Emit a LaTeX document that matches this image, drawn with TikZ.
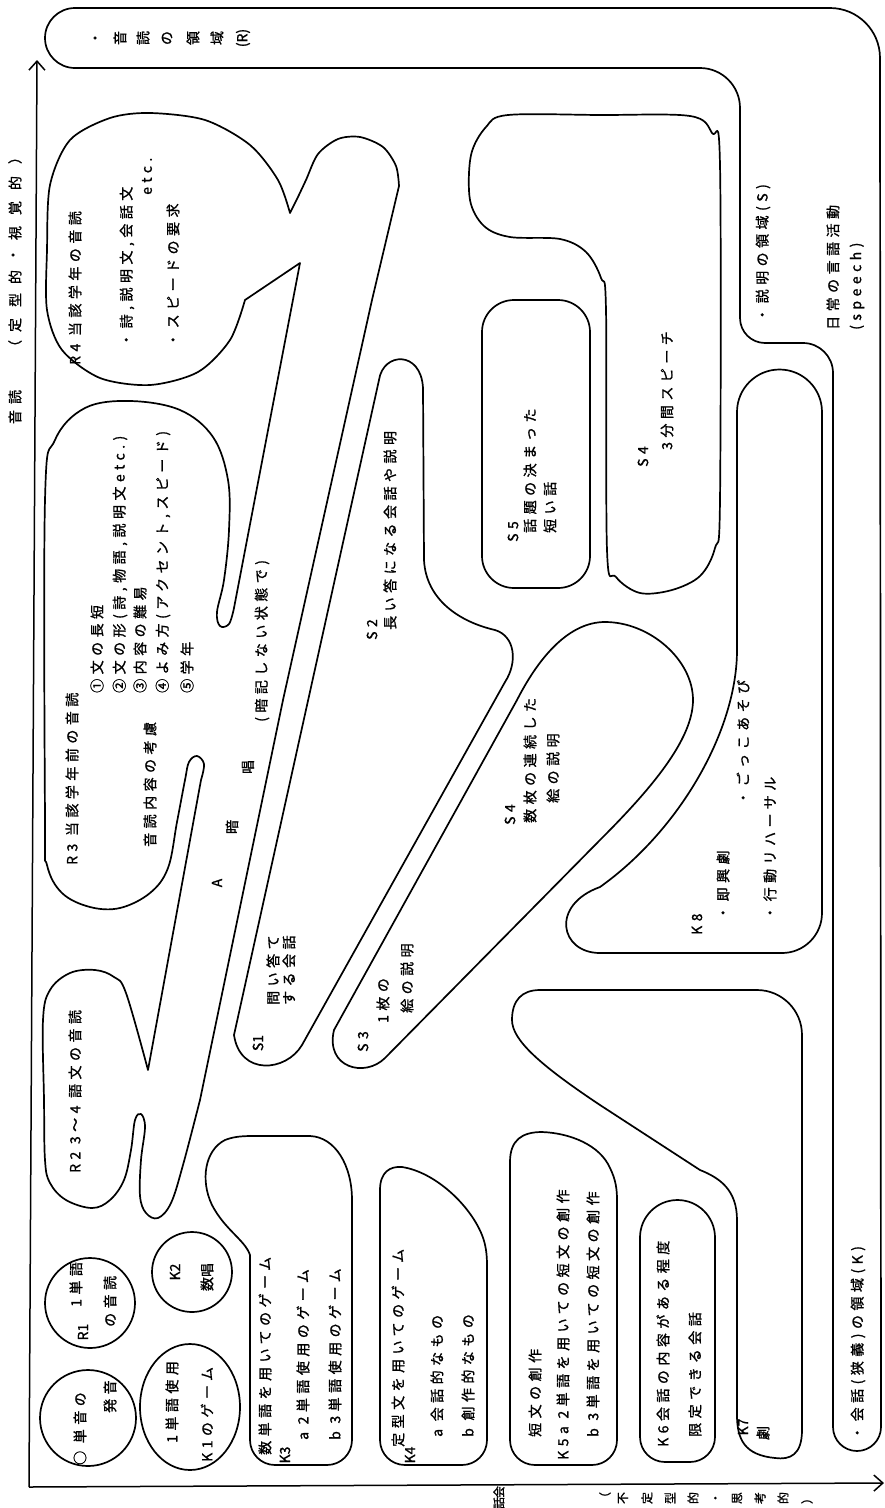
\documentclass[tikz,border=0pt]{standalone}
\usepackage{fontspec}
\usetikzlibrary{arrows.meta}
\newfontfamily\jp[LetterSpace=32,FakeBold=1.2]{Noto Sans CJK JP}
\newfontfamily\jpn[FakeBold=1.2]{Noto Sans CJK JP}
\tikzset{
 shp/.style={line width=1.7pt, line join=round, line cap=round},
 lbl/.style={rotate=90, anchor=west, inner sep=0pt, font=\jp\fontsize{14}{16}\selectfont},
 chr/.style={rotate=90, inner sep=0pt, font=\jpn\fontsize{14}{16}\selectfont},
 chs/.style={rotate=90, inner sep=0pt, font=\jpn\fontsize{12}{14}\selectfont},
}
\begin{document}
\begin{tikzpicture}[x=1pt,y=-1pt]
\useasboundingbox (0,0) rectangle (885,1508);
\fill[white] (0,0) rectangle (885,1508);

% axes
\draw[line width=1.5pt, -{Straight Barb[length=9pt,width=16pt]}] (29,1487) -- (37,60);
\draw[line width=1.5pt, -{Straight Barb[length=9pt,width=16pt]}] (29,1487) -- (884,1483);

% outer band
\draw[shp] (75,8) -- (830,8) arc[start angle=270,end angle=360,radius=50] -- (881,1427) arc[start angle=0,end angle=180,radius=24] -- (833,373) arc[start angle=0,end angle=-90,radius=30] -- (765,343) arc[start angle=90,end angle=180,radius=25] -- (740,108) arc[start angle=0,end angle=-90,radius=40] -- (75,68) arc[start angle=90,end angle=270,radius=30] -- cycle;

% R region (R2, R3, R4 and A band)
\draw[shp] plot[smooth, tension=0.5] coordinates {(290,213) (297,199) (306,180) (318,154) (338,139) (360,137) (383,147) (396,166) (399,186)}
 -- (372,300) -- (283,700) -- plot[smooth, tension=0.6] coordinates {(200,1100) (183,1165) (171,1203) (158,1218) (146,1213) (140,1196) (141,1160) (145,1127) (141,1114) (135,1120) (131,1150) (124,1180) (110,1200) (92,1208) (66,1200) (50,1183) (45,1160) (44,1100) (43,1020) (50,990) (70,973) (95,970) (114,977) (126,993) (148,1070)}
 -- plot[smooth, tension=0.6] coordinates {(201,780) (204,764) (197,756) (189,762) (185,780) (177,822) (168,868) (150,893) (120,908) (90,907) (62,893) (47,865) (45,820) (45,500) (55,440) (85,408) (130,401) (180,410) (213,437) (228,480) (229,530) (224,580) (217,612) (220,626) (229,624) (234,608)}
 -- (300,263) -- plot[smooth, tension=0.5] coordinates {(245,300) (230,340) (198,372) (150,385) (100,378) (62,350) (47,310) (47,250) (50,185) (70,140) (110,118) (150,113) (205,120) (250,145) (278,180) (290,213)} -- cycle;

% S1 + S2 lobe
\draw[shp] (379,380) .. controls (383,352) and (421,350) .. (423,388) -- (424,560) .. controls (426,600) and (460,622) .. (495,630) .. controls (515,636) and (518,662) .. (505,682) -- (302,1045) .. controls (286,1072) and (240,1076) .. (234,1035) -- cycle;
% S3 + S4 lobe
\draw[shp] (334,1030) -- (517,700) .. controls (540,655) and (570,622) .. (605,622) .. controls (650,622) and (693,660) .. (693,700) .. controls (693,740) and (650,790) .. (600,840) -- (385,1058) .. controls (365,1078) and (325,1068) .. (334,1030) -- cycle;
% S5
\draw[shp, rounded corners=32] (482,300) rectangle (590,588);
% S4 hook (3 min speech)
\draw[shp] plot[smooth cycle, tension=0.55] coordinates {(508,115) (486,127) (471,155) (470,200) (484,226) (510,237) (560,239) (586,252) (601,278) (606,310) (607,550) (616,577) (640,593) (672,590) (700,576) (715,548) (720,500) (720,165) (712,133) (690,116) (600,115)};

% K8 with tall strip
\draw[shp] (737,650) -- (737,412) arc[start angle=180,end angle=360,radius=42.5] -- (822,913) arc[start angle=0,end angle=90,radius=40] -- (600,953) .. controls (560,953) and (550,905) .. (600,887) .. controls (680,830) and (737,730) .. (737,650) -- cycle;
% K7
\draw[shp] (540,990) -- (757,990) arc[start angle=270,end angle=360,radius=45] -- (802,1430) .. controls (802,1455) and (790,1460) .. (775,1458) .. controls (745,1455) and (737,1440) .. (737,1415) -- (737,1220) .. controls (737,1190) and (720,1178) .. (700,1170) -- (600,1105) .. controls (540,1065) and (512,1040) .. (512,1020) .. controls (512,1000) and (522,990) .. (540,990) -- cycle;
% K6
\draw[shp] (640,1237.5) arc[start angle=180,end angle=360,radius=37.5] -- (715,1437) arc[start angle=0,end angle=90,radius=25] -- (665,1462) arc[start angle=90,end angle=180,radius=25] -- cycle;
% K5
\draw[shp] (510,1440) -- (510,1162) .. controls (510,1140) and (522,1132) .. (542,1132) .. controls (570,1133) and (600,1145) .. (610,1168) .. controls (616,1180) and (617,1190) .. (617,1200) -- (617,1440) arc[start angle=0,end angle=90,radius=25] -- (535,1465) arc[start angle=90,end angle=180,radius=25] -- cycle;
% K4
\draw[shp] (380,1440) -- (380,1190) .. controls (380,1172) and (390,1166) .. (402,1167) .. controls (435,1172) and (470,1205) .. (482,1235) .. controls (486,1245) and (487,1255) .. (487,1265) -- (487,1440) arc[start angle=0,end angle=90,radius=25] -- (405,1465) arc[start angle=90,end angle=180,radius=25] -- cycle;
% K3
\draw[shp] (250,1440) -- (250,1255) .. controls (245,1240) and (225,1230) .. (212,1205) .. controls (200,1180) and (205,1150) .. (225,1140) .. controls (235,1136) and (245,1136) .. (255,1136) -- (310,1136) .. controls (335,1137) and (352,1165) .. (352,1200) -- (352,1440) arc[start angle=0,end angle=90,radius=25] -- (275,1465) arc[start angle=90,end angle=180,radius=25] -- cycle;
% circles
\draw[shp] (88,1418) circle[radius=48];
\draw[shp] (90,1303) circle[radius=45];
\draw[shp] (192,1272) circle[radius=40];
\draw[shp] (190,1407) ellipse[x radius=50, y radius=63];

% ---- texts ----
\foreach \y/\c [count=\i] in {417/音,397/読,347/（,325/定,300/型,277/的,255/・,233/視,208/覚,183/的,157/）}
  \node[chr] (ax\i) at (15,\y) {\c};
\node[chs] (bh1) at (499,1492) {会};
\node[chs] (bh2) at (499,1503) {話};
\foreach \x/\c [count=\i] in {605/（,623/不,647/定,670/型,693/的,717/・,737/思,760/考,783/的,807/）}
  \node[chs] (bx\i) at (\x,1498) {\c};
\foreach \x/\c [count=\i] in {97/・,120/音,143/読,167/の,193/領,217/域,243/(R)}
  \node[chr] (rb\i) at (\x,38) {\c};

\node[lbl] (r4a) at (75,365) {R4 当該学年の音読};
\node[lbl] (r4b) at (127,347) {・詩,説明文,会話文};
\node[lbl] (r4c) at (147,195) {etc.};
\node[lbl] (r4d) at (173,347) {・スピードの要求};
\node[lbl] (r3a) at (72,865) {R3 当該学年前の音読};
\node[lbl] (r3b) at (150,847) {音読内容の考慮};
\node[lbl] (r3c) at (97,693) {①文の長短};
\node[lbl] (r3d) at (120,693) {②文の形(詩,物語,説明文etc.)};
\node[lbl] (r3e) at (140,693) {③内容の難易};
\node[lbl] (r3f) at (163,693) {④よみ方(アクセント,スピード)};
\node[lbl] (r3g) at (187,693) {⑤学年};
\node[lbl] (r2a) at (75,1173) {R2 3〜4 語文の音読};
\node[chr] (a1) at (217,883) {A};
\node[chr] (a2) at (232,827) {暗};
\node[chr] (a3) at (248,767) {唱};
\node[lbl] (a4) at (262,722) {(暗記しない状態で)};

\node[chr] (s1a) at (258,1043) {S1};
\node[lbl] (s1b) at (273,1005) {問い答て};
\node[lbl] (s1c) at (289,1005) {する会話};
\node[lbl] (s2a) at (372,640) {S2};
\node[lbl] (s2b) at (390,630) {長い答になる会話や説明};
\node[lbl] (s3a) at (363,1052) {S3};
\node[lbl] (s3b) at (383,1023) {1枚の};
\node[lbl] (s3c) at (407,1013) {絵の説明};
\node[lbl] (s4a) at (510,825) {S4};
\node[lbl] (s4b) at (530,823) {数枚の連続した};
\node[lbl] (s4c) at (553,803) {絵の説明};
\node[lbl] (s5a) at (513,542) {S5};
\node[lbl] (s5b) at (530,533) {話題の決まった};
\node[lbl] (s5c) at (550,533) {短い話};
\node[lbl] (s6a) at (643,467) {S4};
\node[lbl] (s6b) at (667,450) {3分間スピーチ};
\node[lbl] (sreg) at (763,322) {・説明の領域(S)};
\node[lbl] (da) at (833,330) {日常の言語活動};
\node[lbl] (db) at (857,330) {(speech)};
\node[lbl] (kreg) at (858,1440) {・会話(狭義)の領域(K)};

\node[lbl] (k8a) at (697,935) {K8};
\node[lbl] (k8b) at (723,920) {・即興劇};
\node[lbl] (k8c) at (743,805) {・ごっこあそび};
\node[lbl] (k8d) at (770,920) {・行動リハーサル};
\node[chr] (k7a) at (743,1427) {K7};
\node[chr] (k7b) at (763,1433) {劇};
\node[lbl] (k6a) at (663,1447) {K6会話の内容がある程度};
\node[lbl] (k6b) at (695,1437) {限定できる会話};
\node[lbl] (k5a) at (535,1437) {短文の創作};
\node[lbl] (k5b) at (563,1460) {K5a 2単語を用いての短文の創作};
\node[lbl] (k5c) at (593,1437) {b 3単語を用いての短文の創作};
\node[lbl] (k4a) at (398,1447) {定型文を用いてのゲーム};
\node[chr] (k4b) at (410,1455) {K4};
\node[lbl] (k4c) at (437,1437) {a 会話的なもの};
\node[lbl] (k4d) at (468,1437) {b 創作的なもの};
\node[lbl] (k3a) at (265,1455) {数単語を用いてのゲーム};
\node[chr] (k3b) at (285,1455) {K3};
\node[lbl] (k3c) at (303,1440) {a 2単語使用のゲーム};
\node[lbl] (k3d) at (335,1440) {b 3単語使用のゲーム};
\node[lbl] (k1a) at (172,1443) {1単語使用};
\node[lbl] (k1b) at (207,1462) {K1のゲーム};
\node[chr] (k2a) at (175,1272) {K2};
\node[chr] (k2b) at (207,1277) {数唱};
\node[chr] (r1a) at (83,1332) {R1};
\node[lbl] (r1b) at (76,1307) {1単語};
\node[lbl] (r1c) at (110,1327) {の音読};
\node[lbl] (c0a) at (80,1465) {○ 単音の};
\node[lbl] (c0b) at (110,1413) {発音};
\end{tikzpicture}
\end{document}
